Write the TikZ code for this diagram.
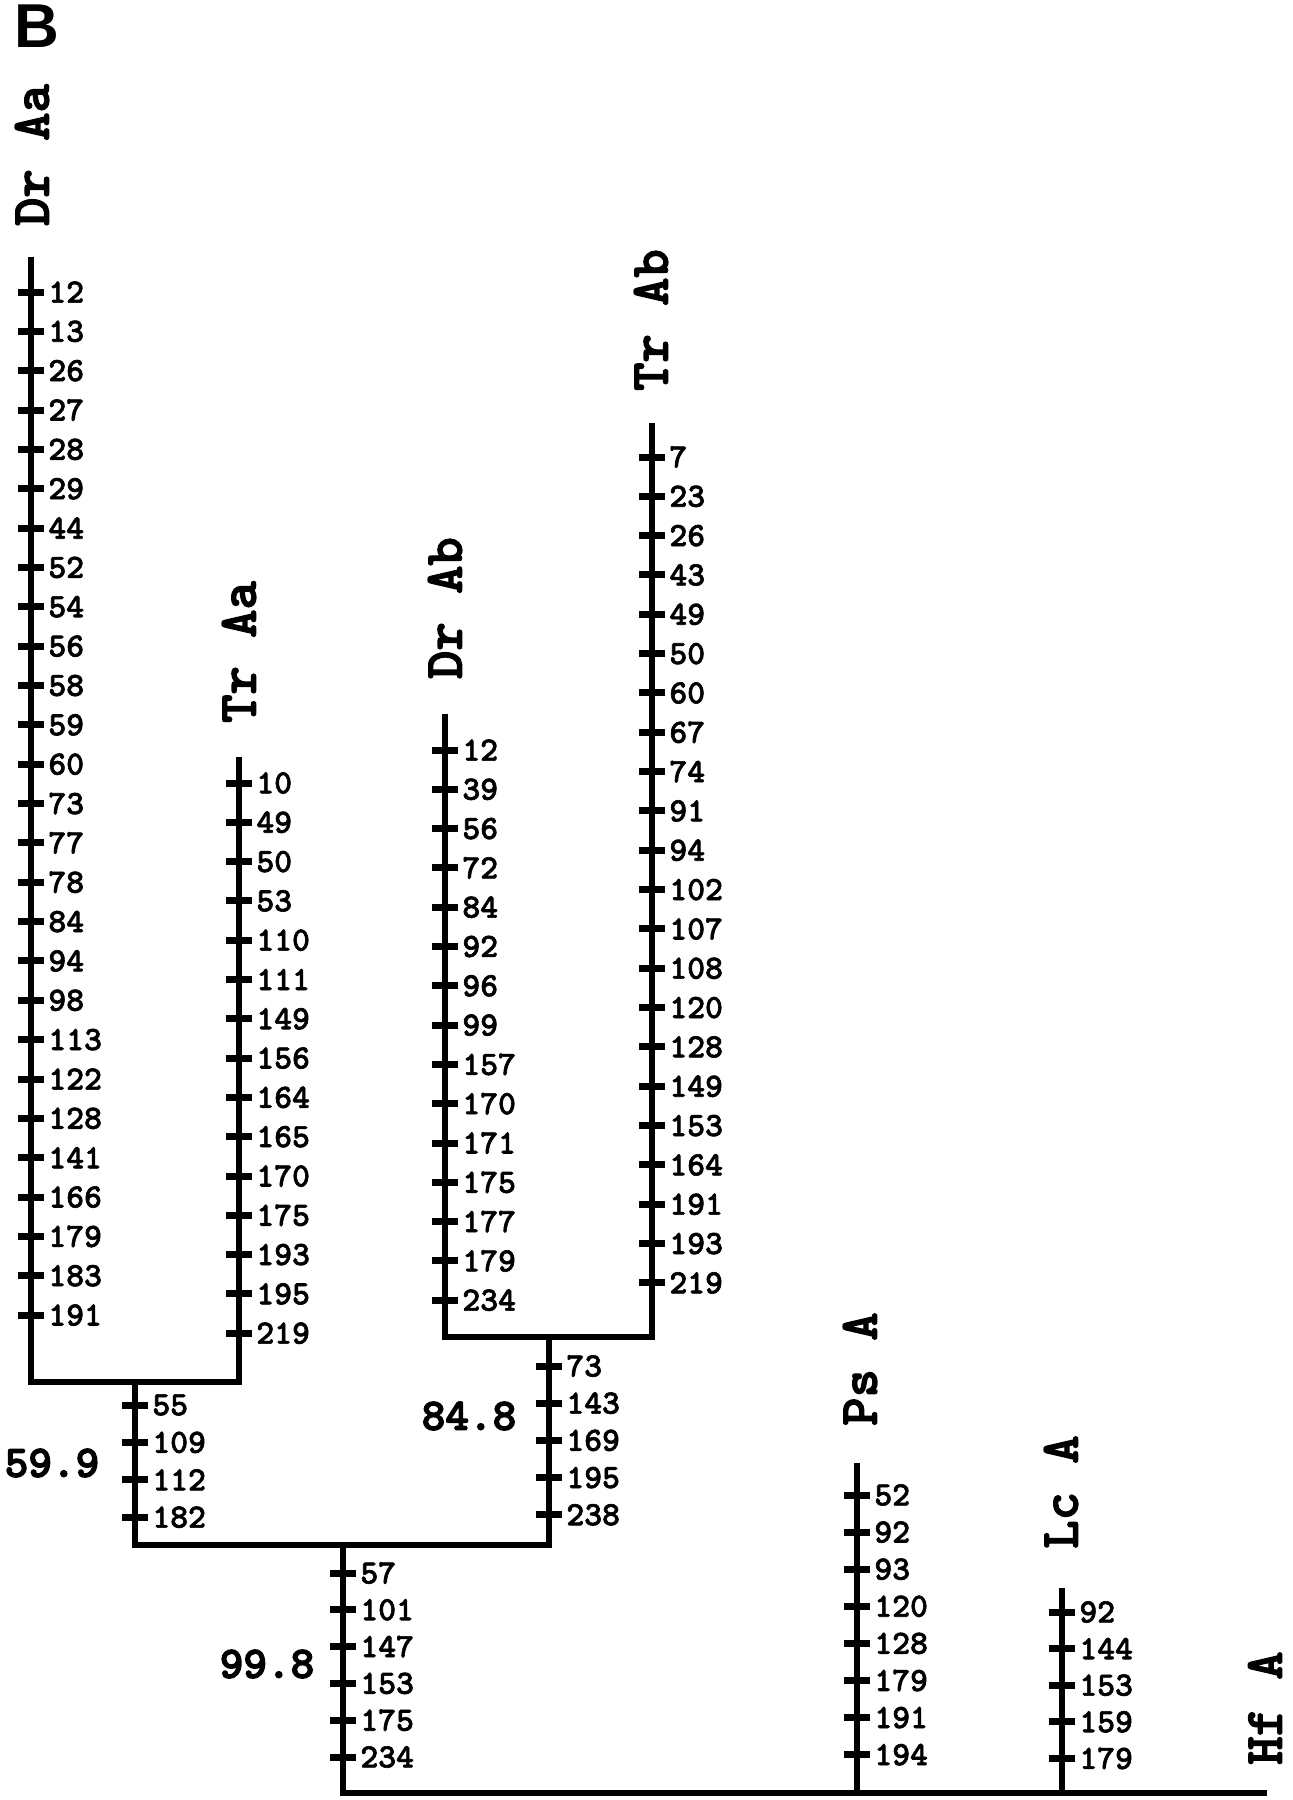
\documentclass[tikz,border=0pt]{standalone}
\usepackage{fontspec}
\newfontfamily\sansf{Liberation Sans}
\newfontfamily\monob{lmmonolt10-bold.otf}[FakeBold=1.8]
\newfontfamily\monot{lmmonolt10-bold.otf}[FakeBold=2.4]
\newfontfamily\monobb{lmmonolt10-bold.otf}[FakeBold=3]
\newcommand\tickcolumn[5]{%
  \foreach \v [count=\i] in {#5} {%
    \draw[tk] ({#2-13},{#3+(\i-1)*#4}) -- ({#2+13},{#3+(\i-1)*#4});
    \node[num] (#1\i) at ({#2+17},{#3+(\i-1)*#4}) {\v};
  }}
\begin{document}
\begin{tikzpicture}[x=0.5pt,y=-0.5pt,
  br/.style={line width=3pt, line join=miter},
  tk/.style={line width=3.5pt},
  num/.style={font=\monob\fontsize{17}{17}\selectfont, anchor=west, inner sep=0pt},
  taxon/.style={font=\monot\fontsize{27}{27}\selectfont, rotate=90, inner sep=0pt},
  boot/.style={font=\monobb\fontsize{22.5}{22.5}\selectfont, inner sep=0pt}]
\useasboundingbox (0,0) rectangle (1292,1800);
\node[font=\sansf\bfseries\fontsize{31}{31}\selectfont, inner sep=0pt] (panel) at (37,26) {B};
% coordinates
\coordinate (draaT) at (31,257);   \coordinate (draaB) at (31,1382);
\coordinate (traaT) at (239,757);  \coordinate (traaB) at (239,1382);
\coordinate (drabT) at (445,714);  \coordinate (drabB) at (445,1337);
\coordinate (trabT) at (652,423);  \coordinate (trabB) at (652,1337);
\coordinate (j1T) at (135,1382);   \coordinate (j1B) at (135,1545);
\coordinate (j2T) at (549,1337);   \coordinate (j2B) at (549,1545);
\coordinate (j3T) at (343,1545);   \coordinate (j3B) at (343,1793);
\coordinate (baseE) at (1267,1793);
\coordinate (psT) at (857,1463);   \coordinate (psB) at (857,1793);
\coordinate (lcT) at (1062,1588);  \coordinate (lcB) at (1062,1793);
% branches
\draw[br] (draaT) -- (draaB) -- (traaB) -- (traaT);
\draw[br] (drabT) -- (drabB) -- (trabB) -- (trabT);
\draw[br] (j1T) -- (j1B) -- (j2B) -- (j2T);
\draw[br] (j3T) -- (j3B) -- (baseE);
\draw[br] (psT) -- (psB);
\draw[br] (lcT) -- (lcB);
% taxon labels
\node[taxon] (ldraa) at (32,155) {Dr Aa};
\node[taxon] (ltraa) at (239,652) {Tr Aa};
\node[taxon] (ldrab) at (445,608) {Dr Ab};
\node[taxon] (ltrab) at (651,320) {Tr Ab};
\node[taxon] (lps) at (860,1369) {Ps A};
\node[taxon] (llc) at (1061,1492) {Lc A};
\node[taxon] (lhf) at (1265,1708) {Hf A};
% bootstrap values
\node[boot] (b1) at (52,1463) {59.9};
\node[boot] (b2) at (469,1416) {84.8};
\node[boot] (b3) at (267,1664) {99.8};
% ticks
\tickcolumn{draa}{31}{292}{39.35}{12,13,26,27,28,29,44,52,54,56,58,59,60,73,77,78,84,94,98,113,122,128,141,166,179,183,191}
\tickcolumn{traa}{239}{783}{39.3}{10,49,50,53,110,111,149,156,164,165,170,175,193,195,219}
\tickcolumn{drab}{445}{750}{39.3}{12,39,56,72,84,92,96,99,157,170,171,175,177,179,234}
\tickcolumn{trab}{652}{457}{39.33}{7,23,26,43,49,50,60,67,74,91,94,102,107,108,120,128,149,153,164,191,193,219}
\tickcolumn{ja}{135}{1405}{37.4}{55,109,112,182}
\tickcolumn{jb}{549}{1366}{37.2}{73,143,169,195,238}
\tickcolumn{jc}{343}{1573}{36.8}{57,101,147,153,175,234}
\tickcolumn{ps}{857}{1495}{37.1}{52,92,93,120,128,179,191,194}
\tickcolumn{lc}{1062}{1612}{36.6}{92,144,153,159,179}
\end{tikzpicture}
\end{document}
